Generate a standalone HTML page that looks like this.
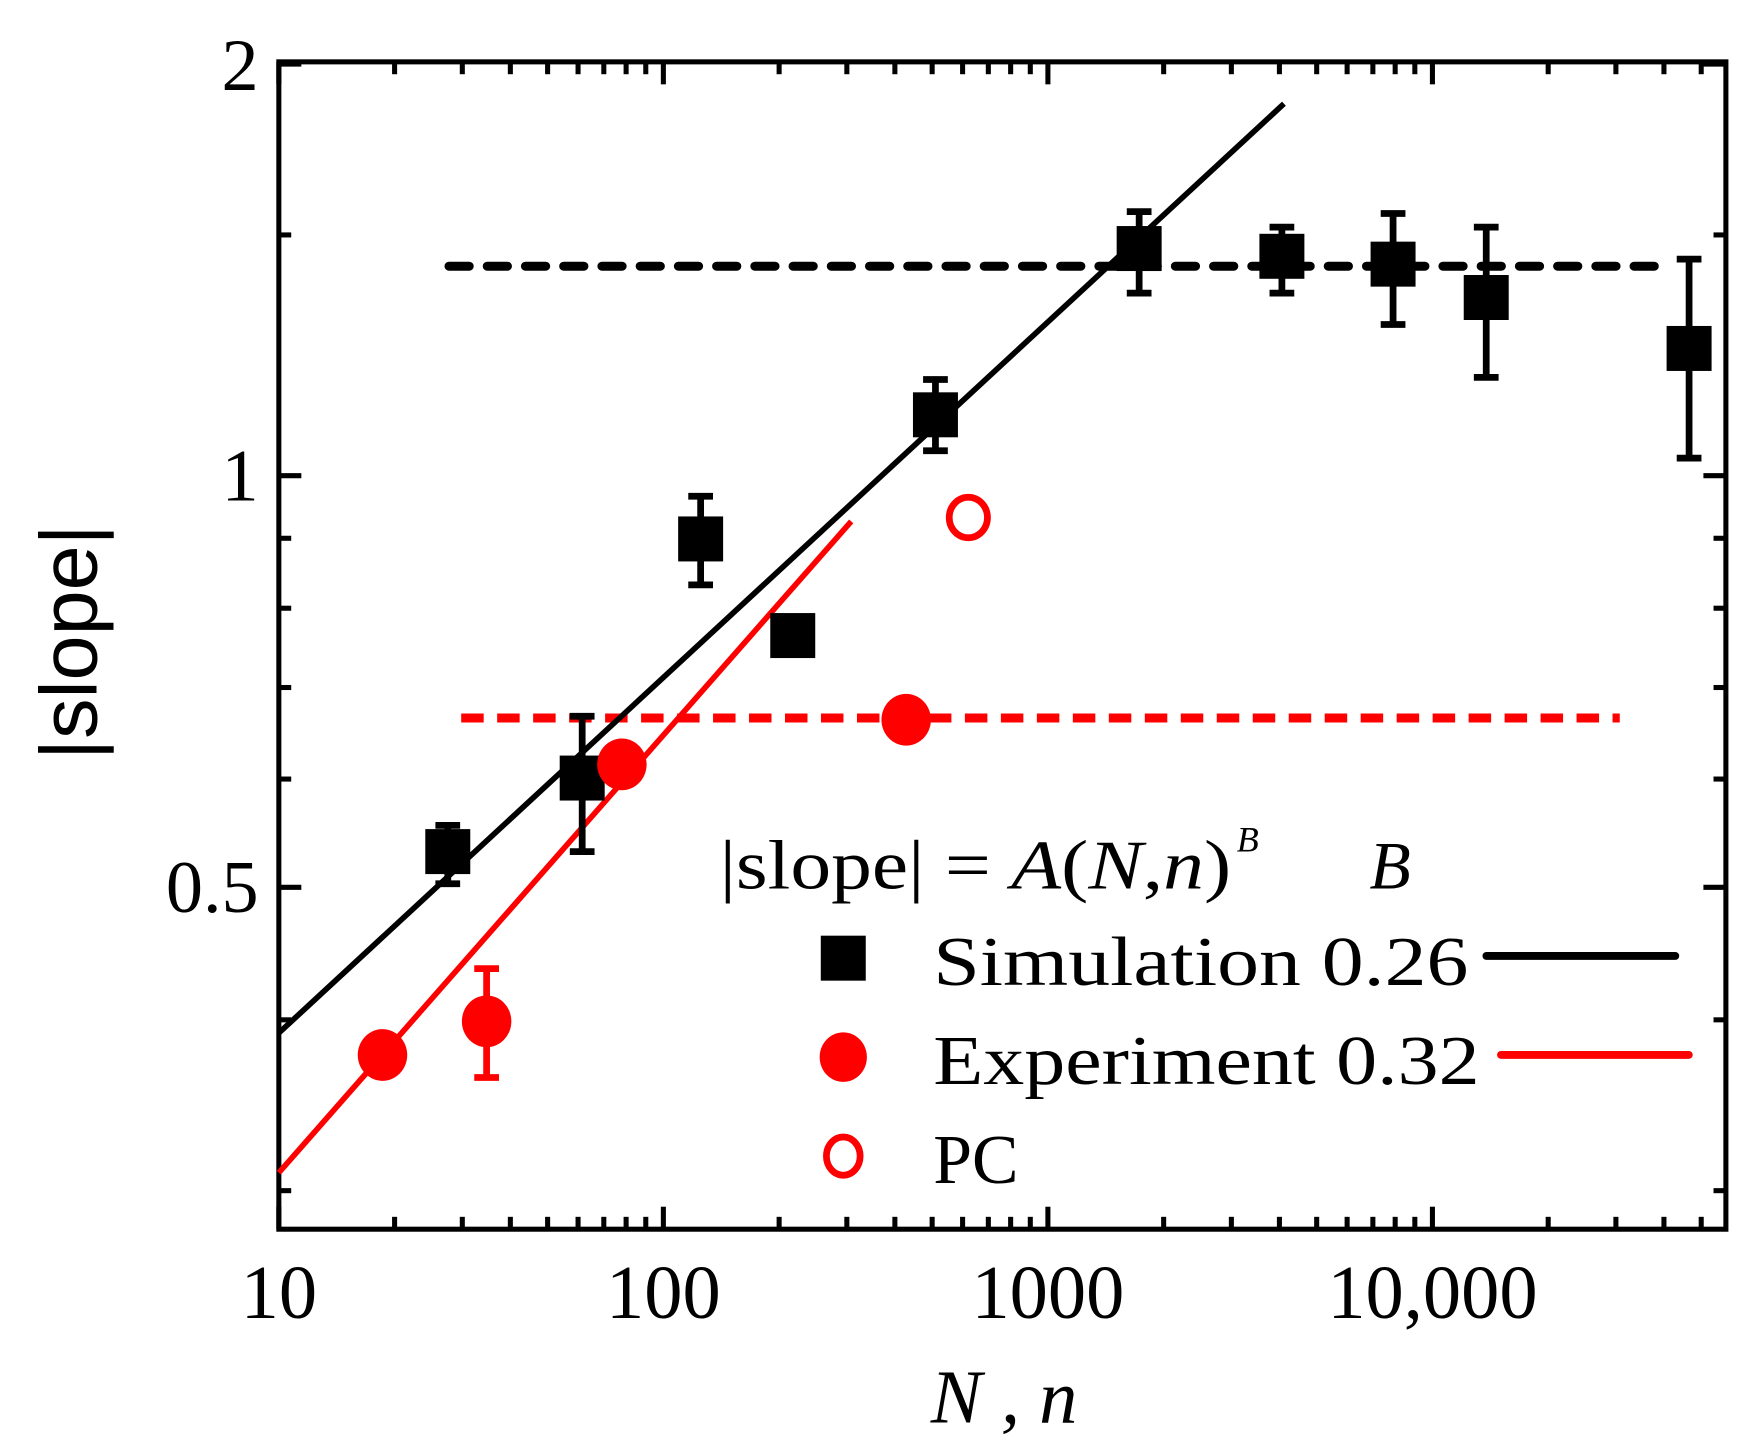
<!DOCTYPE html>
<html><head><meta charset="utf-8"><style>html,body{margin:0;padding:0;background:#fff}svg{display:block}</style></head>
<body>
<svg id="chart" width="1754" height="1453" viewBox="0 0 1560 1292" preserveAspectRatio="none" xmlns="http://www.w3.org/2000/svg" font-family="'Liberation Serif', serif">
<g id="marks"></g>
</svg>
<script>
const simN = [27.5, 61.5, 125, 217, 510, 1727, 4060, 7900, 13800, 46500];
const simSlope = [0.531, 0.601, 0.899, 0.764, 1.108, 1.466, 1.447, 1.428, 1.35, 1.239];
const simErrHi = [0.555, 0.667, 0.966, 0.78, 1.176, 1.56, 1.52, 1.555, 1.52, 1.44];
const simErrLo = [0.503, 0.531, 0.832, 0.745, 1.043, 1.36, 1.36, 1.29, 1.18, 1.03];
const expN = [18.6, 34.7, 78, 428];
const expSlope = [0.377, 0.399, 0.615, 0.663];
const expErrHi = [null, 0.436, null, null];
const expErrLo = [null, 0.363, null, null];
const pcN = [621];
const pcSlope = [0.932];
const simFitRange = [10, 4110];
const simFitA = 0.215, simFitB = 0.26;
const expFitRange = [10, 308];
const expFitA = 0.148, expFitB = 0.32;
const simPlateau = 1.423, simPlateauRange = [27.7, 38700];
const expPlateau = 0.665, expPlateauRange = [29.8, 30700];
const xTicks = [10, 100, 1000, 10000];
const xTickLabels = ["10", "100", "1000", "10,000"];
const yTicks = [0.5, 1, 2];
const yTickLabels = ["0.5", "1", "2"];
const yMinor = [0.3, 0.4, 0.6, 0.7, 0.8, 0.9, 1.5];

const L=248, R=1535, T=55, B=1093;
const X = v => L + (Math.log10(v) - 1) * 342;
const Y = v => 789 - Math.log2(v / 0.5) * 366;
const NS = "http://www.w3.org/2000/svg";
const g = document.getElementById('marks');
function mk(tag, attrs, parent) {
  const e = document.createElementNS(NS, tag);
  for (const k in attrs) e.setAttribute(k, attrs[k]);
  (parent || g).appendChild(e);
  return e;
}
let frame = mk('rect', {x:L, y:T, width:R-L, height:B-T, fill:'none', stroke:'#000', 'stroke-width':4.5});


for (let d = 10; d < 100000; d *= 10) {
  for (let m = 1; m < 10; m++) {
    const v = d * m;
    if (v > 10 ** (1 + (R - L) / 342)) break;
    const x = X(v);
    const len = m === 1 ? 20 : 11;
    let t = mk('line', {x1:x, y1:B, x2:x, y2:B-len, stroke:'#000', 'stroke-width':4.5});
    
    
    let t2 = mk('line', {x1:x, y1:T, x2:x, y2:T+len, stroke:'#000', 'stroke-width':4.5});
    
    
  }
}
xTicks.forEach((v, i) => {
  let t = mk('text', {x:X(v), y:1172, 'font-size':68, 'text-anchor':'middle'});
  t.textContent = xTickLabels[i];
  
  
});
yTicks.concat(yMinor).forEach(v => {
  const y = Y(v); const len = yTicks.includes(v) ? 20 : 11;
  let a = mk('line', {x1:L, y1:y, x2:L+len, y2:y, stroke:'#000', 'stroke-width':4.5});
  
  
  let b = mk('line', {x1:R, y1:y, x2:R-len, y2:y, stroke:'#000', 'stroke-width':4.5});
  
  
});
yTicks.forEach((v, i) => {
  let t = mk('text', {x:230, y:Y(v)+22, 'font-size':66, 'text-anchor':'end'});
  if (v === 2) t.setAttribute('y', 80);
  t.textContent = yTickLabels[i];
  
  
});
let yl = mk('text', {x:0, y:0, 'font-size':72, 'text-anchor':'middle', transform:'translate(86,571) rotate(-90)', 'font-family':"'Liberation Sans', sans-serif"});
yl.textContent = '|slope|';


let xl = mk('text', {x:893, y:1265, 'font-size':68, 'text-anchor':'middle', 'font-style':'italic'});
xl.textContent = 'N , n';


let dp = mk('line', {x1:X(simPlateauRange[0]), y1:Y(simPlateau), x2:X(simPlateauRange[1]), y2:Y(simPlateau), stroke:'#000', 'stroke-width':8, 'stroke-dasharray':'18 16', 'stroke-linecap':'round'});


let rp = mk('line', {x1:X(expPlateauRange[0]), y1:Y(expPlateau), x2:X(expPlateauRange[1]), y2:Y(expPlateau), stroke:'#f00', 'stroke-width':8, 'stroke-dasharray':'20 12'});


let sf = mk('line', {x1:X(simFitRange[0]), y1:Y(simFitA*simFitRange[0]**simFitB), x2:X(simFitRange[1]), y2:Y(simFitA*simFitRange[1]**simFitB), stroke:'#000', 'stroke-width':5});


let ef = mk('line', {x1:X(expFitRange[0]), y1:Y(expFitA*expFitRange[0]**expFitB), x2:X(expFitRange[1]), y2:Y(expFitA*expFitRange[1]**expFitB), stroke:'#f00', 'stroke-width':5});


function err(x, hi, lo, col) {
  return mk('path', {d:`M${x},${Y(hi)}V${Y(lo)}M${x-11},${Y(hi)}H${x+11}M${x-11},${Y(lo)}H${x+11}`, stroke:col, 'stroke-width':6, fill:'none'});
}
simN.forEach((n, i) => {
  const x = X(n), y = Y(simSlope[i]);
  let e = err(x, simErrHi[i], simErrLo[i], '#000');
  
  
  let s = mk('rect', {x:x-20, y:y-20, width:40, height:40, fill:'#000'});
  
  
});
expN.forEach((n, i) => {
  const x = X(n), y = Y(expSlope[i]);
  if (expErrHi[i] !== null) {
    let e = err(x, expErrHi[i], expErrLo[i], '#f00');
    
    
  }
  let c = mk('ellipse', {cx:x, cy:y, rx:22, ry:23, fill:'#f00'});
  
  
});
pcN.forEach((n, i) => {
  let c = mk('ellipse', {cx:X(n), cy:Y(pcSlope[i]), rx:17, ry:18, fill:'none', stroke:'#f00', 'stroke-width':6});
  
  
});
</script>
<svg style="position:absolute;left:0;top:0" width="1754" height="1453" viewBox="0 0 1560 1292" preserveAspectRatio="none" xmlns="http://www.w3.org/2000/svg" font-family="'Liberation Serif', serif">
<text x="640" y="790" font-size="62" textLength="455" lengthAdjust="spacingAndGlyphs">|slope| = <tspan font-style="italic">A</tspan>(<tspan font-style="italic">N</tspan>,<tspan font-style="italic">n</tspan>)</text>
<text x="1100" y="757" font-size="32" font-style="italic">B</text>
<text x="1218" y="790" font-size="60" font-style="italic">B</text>
<rect x="730" y="832" width="40" height="40" fill="#000"/>
<text x="830" y="876" font-size="62" textLength="476" lengthAdjust="spacingAndGlyphs">Simulation  0.26</text>
<line x1="1322" y1="850" x2="1490" y2="850" stroke="#000" stroke-width="7" stroke-linecap="round"/>
<ellipse cx="750" cy="940" rx="21" ry="22" fill="#f00"/>
<text x="830" y="964" font-size="62" textLength="486" lengthAdjust="spacingAndGlyphs">Experiment 0.32</text>
<line x1="1335" y1="938" x2="1502" y2="938" stroke="#f00" stroke-width="7" stroke-linecap="round"/>
<ellipse cx="750" cy="1028" rx="15" ry="17" fill="none" stroke="#f00" stroke-width="6"/>
<text x="830" y="1052" font-size="62">PC</text>
</svg>
</body></html>
